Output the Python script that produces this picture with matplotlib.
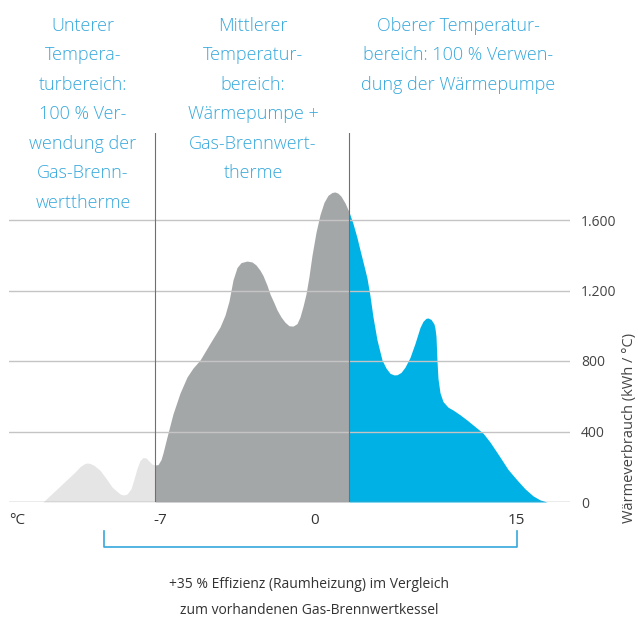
import numpy as np
import matplotlib.pyplot as plt
from matplotlib.transforms import blended_transform_factory

# schematic position along the outdoor temperature axis (chart units) and heat use
pos = [43, 60, 75, 80, 84, 87, 90, 94, 100, 106, 112, 118, 121, 124, 127, 131,
       134, 137, 140, 143, 146, 149, 152, 155,
       158, 161, 163, 167, 173, 180, 187, 193, 200, 210, 220, 225, 229, 233, 237,
       241, 247, 252, 256, 260, 263, 267, 270, 274, 277, 281, 285, 289, 293, 297,
       300, 303, 306, 309, 312, 316, 320, 324, 328, 332, 335, 338, 341, 345, 349,
       353, 357, 360, 364, 367, 370, 373, 377, 382, 386, 390, 394, 397, 401, 405,
       410, 415, 420, 423, 426, 428, 431, 434, 435, 436, 437, 438, 440, 443, 448,
       453, 460, 467, 475, 483, 490, 500, 508, 517, 525, 533, 540, 547]
heat = [0, 90, 170, 200, 216, 221, 219, 208, 180, 135, 85, 55, 43, 40, 45, 75,
        130, 190, 235, 252, 250, 232, 215, 210,
        212, 240, 278, 369, 500, 618, 709, 760, 805, 900, 993, 1060, 1140, 1260, 1330,
        1358, 1367, 1362, 1345, 1315, 1285, 1230, 1180, 1130, 1090, 1050, 1020, 1000, 998, 1012,
        1050, 1110, 1180, 1280, 1400, 1530, 1630, 1700, 1740, 1756, 1759, 1752, 1735, 1697, 1646,
        1580, 1500, 1430, 1340, 1270, 1170, 1050, 920, 806, 760, 730, 721, 722, 735, 765,
        820, 900, 990, 1025, 1042, 1044, 1036, 1010, 985, 940, 800, 700, 620, 570, 538,
        522, 495, 465, 428, 391, 340, 255, 185, 125, 75, 35, 12, 0]

split_lo = 155   # -7 °C boundary
split_hi = 349   # upper boundary

temp_pos = [17, 160, 315, 516]
temp_labels = ['°C', '-7', '0', '15']
y_ticks = [0, 400, 800, 1200, 1600]
y_labels = ['0', '400', '800', '1.200', '1.600']

headings = [
    (83, 'Unterer\nTempera-\nturbereich:\n100 % Ver-\nwendung der\nGas-Brenn-\nwerttherme'),
    (253, 'Mittlerer\nTemperatur-\nbereich:\nWärmepumpe +\nGas-Brennwert-\ntherme'),
    (458, 'Oberer Temperatur-\nbereich: 100 % Verwen-\ndung der Wärmepumpe'),
]

plt.rcParams['font.family'] = ['Open Sans', 'DejaVu Sans']
W, H = 638, 618
fig = plt.figure(figsize=(W / 100, H / 100), dpi=100)
ax = fig.add_axes([9 / W, 1 - 502 / H, (570 - 9) / W, (502 - 133) / H])

x = np.array(pos, dtype=float)
y = np.array(heat, dtype=float)
lo = x <= split_lo
mid = (x >= split_lo) & (x <= split_hi)
hi = x >= split_hi
ax.fill_between(x[lo], y[lo], color='#e5e5e5', lw=0, zorder=1)
ax.fill_between(x[mid], y[mid], color='#a4a7a8', lw=0, zorder=1)
ax.fill_between(x[hi], y[hi], color='#00b1e6', lw=0, zorder=1)

for t in y_ticks:
    ax.axhline(t, color='#9a9a9a' if t == 0 else '#c4c4c4', lw=1, zorder=2)
for v in (split_lo, split_hi):
    ax.axvline(v, color='#707070', lw=0.8, zorder=3)

ax.set_xlim(9, 570)
ax.set_ylim(0, (502 - 133) * 400 / 70.5)
for s in ax.spines.values():
    s.set_visible(False)

ax.set_xticks(temp_pos)
ax.set_xticklabels(temp_labels, fontsize=11, color='#333333')
ax.yaxis.tick_right()
ax.set_yticks(y_ticks)
ax.set_yticklabels(y_labels, fontsize=10, color='#444444')
ax.tick_params(axis='both', length=0)
ax.tick_params(axis='x', pad=8)
ax.tick_params(axis='y', pad=8)
fig.text(629 / W, 1 - 428 / H, 'Wärmeverbrauch (kWh / °C)', rotation=90,
         ha='center', va='center', fontsize=10.5, color='#444444')

blue = '#35a8dc'
for cx, txt in headings:
    fig.text(cx / W, 1 - 17 / H, txt, ha='center', va='top', fontsize=13,
             color=blue, linespacing=1.82, fontweight='light')

# bracket under the temperature axis
tr = blended_transform_factory(ax.transData, fig.transFigure)
bx = [104, 104, 517, 517]
by = [1 - 531 / H, 1 - 547 / H, 1 - 547 / H, 1 - 531 / H]
ax.plot(bx, by, color=blue, lw=1.2, transform=tr, clip_on=False)

fig.text(309 / W, 1 - 585 / H, '+35 % Effizienz (Raumheizung) im Vergleich',
         ha='center', va='center', fontsize=10, color='#333333')
fig.text(309 / W, 1 - 610 / H, 'zum vorhandenen Gas-Brennwertkessel',
         ha='center', va='center', fontsize=10, color='#333333')

fig.savefig('out.png', dpi=100)
